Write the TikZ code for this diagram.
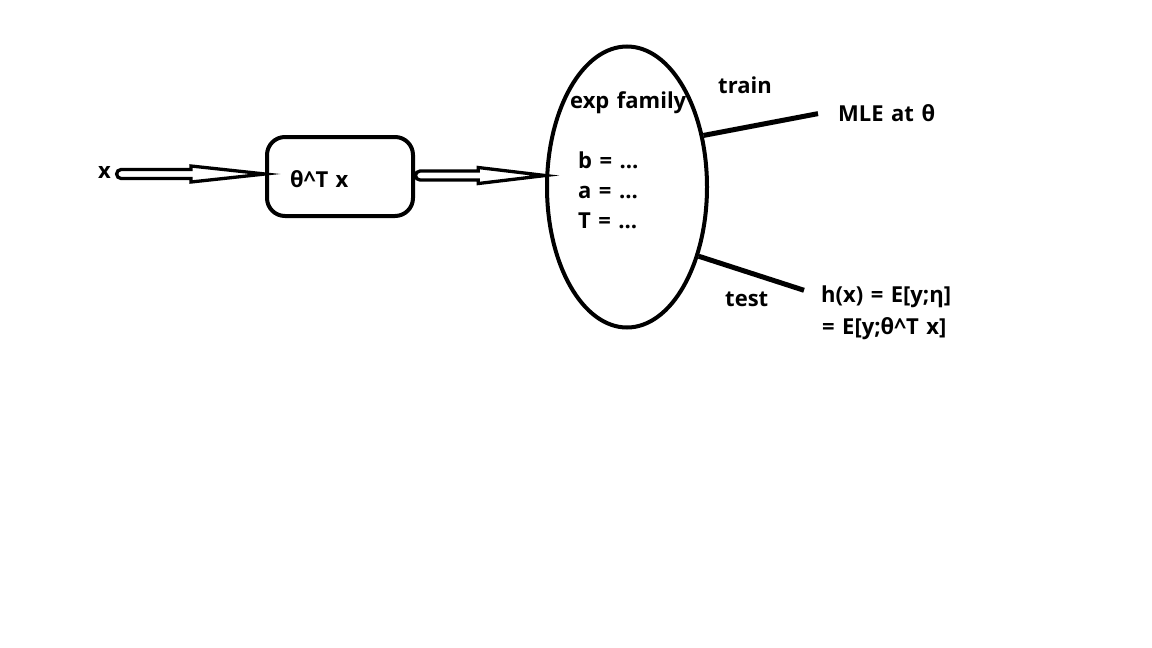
\documentclass[tikz,border=0pt]{standalone}
\usepackage{fontspec}
\setmainfont{Open Sans}
\usetikzlibrary{shapes.geometric,calc}
\newcommand\lblfont{\fontsize{22}{26}\selectfont\bfseries\spaceskip 7.5pt\relax}
\newcommand\hollowarrow[3]{%
  \draw[hollow] let \p1=#1, \p2=#2 in
    (\x1,\y1+4.5pt) -- (\x2-#3,\y2+4.5pt) -- (\x2-#3,\y2+8pt) -- (\x2,\y2)
    -- (\x2-#3,\y2-8pt) -- (\x2-#3,\y2-4.5pt) -- (\x1,\y1-4.5pt)
    arc[start angle=270, end angle=90, radius=4.5pt] -- cycle;
}
\begin{document}
\begin{tikzpicture}[x=1pt,y=-1pt,
  lbl/.style={font=\lblfont, inner sep=0pt, anchor=base west},
  conn/.style={line width=5pt},
  hollow/.style={line width=3.3pt, line join=miter, miter limit=20}]
\useasboundingbox[fill=white] (0,0) rectangle (1152,648);
% nodes
\node[lbl] (x) at (98,178) {x};
\node[draw, line width=4pt, rounded corners=18pt, minimum width=146pt,
      minimum height=79pt, inner sep=0pt] (box) at (340,176.5) {};
\node[lbl] (bt) at (290,187) {θ\textasciicircum T x};
\node[draw, ellipse, line width=4pt, minimum width=160pt, minimum height=281pt,
      inner sep=0pt] (ell) at (627,187) {};
\node[lbl] (fam) at (570,108) {exp family};
\node[lbl] (b) at (578,168) {b = …};
\node[lbl] (a) at (578,198) {a = …};
\node[lbl] (T) at (578,228) {T = …};
\node[lbl] (train) at (718,93) {train};
\node[lbl] (mle) at (838,121) {MLE at θ};
\node[lbl] (test) at (725,306) {test};
\node[lbl] (hx) at (821,302) {h(x) = E[y;η]};
\node[lbl] (ex) at (822,334) {= E[y;θ\textasciicircum T x]};
% hollow arrows
\coordinate (tip1) at ($(box.west)+(0,-2.5)$);
\coordinate (start1) at ($(x.east |- tip1)+(10,0)$);
\hollowarrow{(start1)}{(tip1)}{74pt}
\coordinate (tip2) at (ell.172);
\coordinate (start2) at ($(box.east |- tip2)+(5,0)$);
\hollowarrow{(start2)}{(tip2)}{67pt}
% connectors
\coordinate (trainend) at ($(mle.west)+(-20,1)$);
\draw[conn] (ell.34) -- (trainend);
\coordinate (testend) at ($(hx.west)+(-17,-6)$);
\draw[conn] (ell.-44) -- (testend);
\end{tikzpicture}
\end{document}
